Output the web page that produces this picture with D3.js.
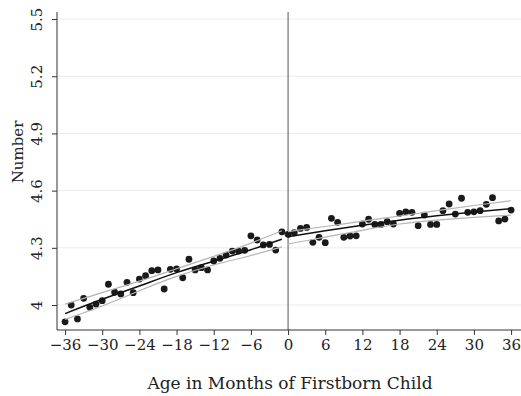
<!DOCTYPE html>
<html>
<head>
<meta charset="utf-8">
<script src="https://cdn.jsdelivr.net/npm/d3@7"></script>
<style>
  body { margin: 0; background: #fff; }
  svg { display: block; }
</style>
</head>
<body>
<div id="chart"></div>
<script>
// Binned averages by month of firstborn's age
var months = [-36, -35, -34, -33, -32, -31, -30, -29, -28, -27, -26, -25, -24, -23, -22, -21, -20, -19,
              -18, -17, -16, -15, -14, -13, -12, -11, -10, -9, -8, -7, -6, -5, -4, -3, -2, -1,
              0, 1, 2, 3, 4, 5, 6, 7, 8, 9, 10, 11, 12, 13, 14, 15, 16, 17,
              18, 19, 20, 21, 22, 23, 24, 25, 26, 27, 28, 29, 30, 31, 32, 33, 34, 35, 36];
var values = [3.912, 4.000, 3.927, 4.035, 3.988, 4.005, 4.023, 4.109, 4.067, 4.058, 4.119, 4.065, 4.136, 4.154, 4.180, 4.184, 4.084, 4.187,
              4.189, 4.143, 4.240, 4.184, 4.196, 4.184, 4.231, 4.245, 4.262, 4.283, 4.283, 4.287, 4.363, 4.341, 4.315, 4.318, 4.288, 4.384,
              4.371, 4.379, 4.402, 4.407, 4.329, 4.355, 4.327, 4.455, 4.434, 4.355, 4.362, 4.363, 4.425, 4.450, 4.423, 4.423, 4.437, 4.425,
              4.481, 4.489, 4.486, 4.416, 4.472, 4.423, 4.423, 4.495, 4.530, 4.477, 4.560, 4.486, 4.489, 4.495, 4.528, 4.563, 4.441, 4.451, 4.498];

// Fitted curve and band, before and after birth
var preMonths = [-36, -30, -24, -18, -12, -6, -1];
var preFit    = [3.955, 4.030, 4.100, 4.170, 4.230, 4.290, 4.345];
var preUpper  = [4.005, 4.065, 4.125, 4.190, 4.255, 4.325, 4.390];
var preLower  = [3.925, 3.995, 4.075, 4.150, 4.210, 4.260, 4.305];

var postMonths = [0, 6, 12, 18, 24, 30, 36];
var postFit    = [4.358, 4.389, 4.418, 4.445, 4.468, 4.488, 4.505];
var postUpper  = [4.385, 4.412, 4.440, 4.467, 4.495, 4.522, 4.547];
var postLower  = [4.320, 4.356, 4.392, 4.425, 4.445, 4.460, 4.472];

var xTicks = [-36, -30, -24, -18, -12, -6, 0, 6, 12, 18, 24, 30, 36];
var yTicks = [4, 4.3, 4.6, 4.9, 5.2, 5.5];

var width = 521, height = 396;
var plotLeft = 57, plotRight = 521, plotTop = 12, plotBottom = 330;
var font = "'DejaVu Serif', serif";

var svg = d3.select("#chart").append("svg")
    .attr("width", width)
    .attr("height", height);

var x = d3.scaleLinear().domain([-37.3, 37.6]).range([plotLeft, plotRight]);
var y = d3.scaleLinear().domain([3.869, 5.537]).range([plotBottom, plotTop]);

// horizontal grid
svg.append("g").selectAll("line")
    .data(yTicks)
    .enter().append("line")
    .attr("x1", plotLeft).attr("x2", plotRight)
    .attr("y1", function(d) { return y(d); })
    .attr("y2", function(d) { return y(d); })
    .attr("stroke", "#ebebeb")
    .attr("stroke-width", 1);

// vertical line at birth
svg.append("line")
    .attr("x1", x(0)).attr("x2", x(0))
    .attr("y1", plotTop).attr("y2", plotBottom)
    .attr("stroke", "#555")
    .attr("stroke-width", 1);

// points
svg.append("g").selectAll("circle")
    .data(months)
    .enter().append("circle")
    .attr("cx", function(d) { return x(d); })
    .attr("cy", function(d, i) { return y(values[i]); })
    .attr("r", 3.4)
    .attr("fill", "#1a1a1a");

function drawLine(ms, vs, color, w) {
    var line = d3.line()
        .x(function(d) { return x(d); })
        .y(function(d, i) { return y(vs[i]); })
        .curve(d3.curveNatural);
    svg.append("path")
        .datum(ms)
        .attr("d", line)
        .attr("fill", "none")
        .attr("stroke", color)
        .attr("stroke-width", w);
}

drawLine(preMonths, preUpper, "#b4b4b4", 1.2);
drawLine(preMonths, preLower, "#b4b4b4", 1.2);
drawLine(postMonths, postUpper, "#b4b4b4", 1.2);
drawLine(postMonths, postLower, "#b4b4b4", 1.2);
drawLine(preMonths, preFit, "#111", 1.5);
drawLine(postMonths, postFit, "#111", 1.5);

// axes
var xAxis = svg.append("g")
    .attr("transform", "translate(0," + plotBottom + ")")
    .call(d3.axisBottom(x).tickValues(xTicks).tickSize(5).tickPadding(4).tickFormat(d3.format("d")));

var yAxis = svg.append("g")
    .attr("transform", "translate(" + plotLeft + ",0)")
    .call(d3.axisLeft(y).tickValues(yTicks).tickSize(5).tickFormat(function(d) { return d3.format("")(d); }));

[xAxis, yAxis].forEach(function(g) {
    g.select(".domain").attr("stroke", "#333");
    g.selectAll(".tick line").attr("stroke", "#333");
    g.selectAll("text").attr("fill", "#222").style("font-family", font).style("font-size", "15px");
});

xAxis.select(".domain").attr("d", "M" + plotLeft + ",0H" + plotRight);
yAxis.select(".domain").attr("d", "M0," + plotTop + "V" + plotBottom);

yAxis.selectAll(".tick text")
    .attr("transform", "rotate(-90)")
    .attr("x", 0)
    .attr("y", -15)
    .attr("dy", 0)
    .attr("text-anchor", "middle");

// axis titles
svg.append("text")
    .attr("x", (147 + 433) / 2)
    .attr("y", 389)
    .attr("text-anchor", "middle")
    .style("font-family", font)
    .style("font-size", "17px")
    .attr("fill", "#222")
    .text("Age in Months of Firstborn Child");

svg.append("text")
    .attr("transform", "translate(23,152) rotate(-90)")
    .attr("text-anchor", "middle")
    .style("font-family", font)
    .style("font-size", "15px")
    .attr("fill", "#222")
    .text("Number");
</script>
</body>
</html>
